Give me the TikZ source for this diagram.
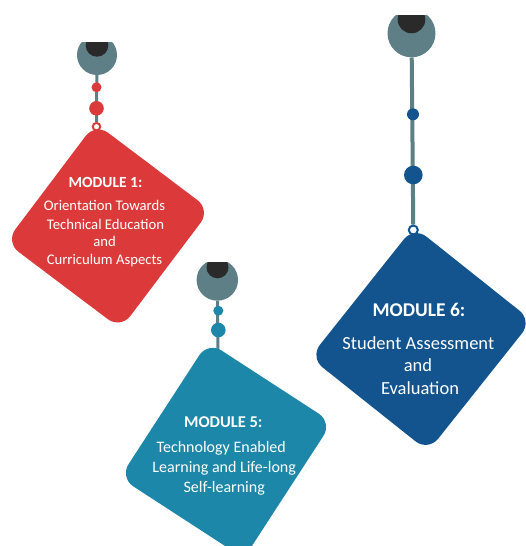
\documentclass[tikz,border=0pt]{standalone}
\usepackage{fontspec}
\setmainfont{Carlito}
\pgfdeclarelayer{bg}
\pgfsetlayers{bg,main}
\definecolor{headgray}{HTML}{5E7F85}
\definecolor{capdark}{HTML}{2A2A2A}
\definecolor{mred}{HTML}{DC3A3A}
\definecolor{mblue}{HTML}{13548F}
\definecolor{mteal}{HTML}{1C87A9}
\tikzset{
  card/.style={rectangle, rounded corners=16pt, inner sep=0pt, draw=none},
  head/.style={circle, fill=headgray, inner sep=0pt},
  capshape/.style={circle, fill=capdark, inner sep=0pt},
  bead/.style={circle, inner sep=0pt},
  hookring/.style={circle, draw, line width=2pt, inner sep=0pt, fill=none},
  stem/.style={draw=headgray, line width=3pt},
  ttl/.style={text=white, anchor=base, inner sep=0pt},
  bdy/.style={text=white, anchor=base, inner sep=0pt},
}
\begin{document}
\begin{tikzpicture}[x=1pt,y=-1pt]
\useasboundingbox (0,0) rectangle (525,546);

% ---------- Module 1 (red)
\node[card, fill=mred, minimum width=144pt, minimum height=149pt, rotate=-37] (m1) at (108,226) {};
\begin{scope}
  \clip (60,42) rectangle (135,80);
  \node[head, minimum size=40pt] (h1) at (97,55) {};
  \node[capshape, minimum size=22.6pt] (k1) at (97,45.4) {};
\end{scope}
\node[bead, fill=mred, minimum size=10pt] (s1) at (96.5,87.3) {};
\node[bead, fill=mred, minimum size=14.6pt] (b1) at (96.5,108.3) {};
\node[hookring, draw=mred, minimum size=7.5pt] (r1) at (96.5,126.7) {};
\begin{pgfonlayer}{bg}
  \draw[stem] (h1) -- (r1);
\end{pgfonlayer}
\node[ttl, font=\fontsize{15.5}{18}\selectfont\bfseries] (m1t) at (105.5,187.3) {MODULE 1:};
\node[bdy, font=\fontsize{14.7}{18}\selectfont] (m1a) at (104.5,210.7) {Orientation Towards};
\node[bdy, font=\fontsize{14.7}{18}\selectfont] (m1b) at (105.5,229) {Technical Education};
\node[bdy, font=\fontsize{14.7}{18}\selectfont] (m1c) at (104.5,246.7) {and};
\node[bdy, font=\fontsize{14.7}{18}\selectfont] (m1d) at (104.5,264.3) {Curriculum Aspects};

% ---------- Module 6 (blue)
\node[card, fill=mblue, minimum width=151pt, minimum height=167pt, rotate=-38.5] (m6) at (421,339) {};
\begin{scope}
  \clip (380,15) rectangle (445,62);
  \node[head, minimum size=48pt] (h6) at (411.5,33.3) {};
  \node[capshape, minimum size=27.6pt] (k6) at (411.5,19.5) {};
\end{scope}
\node[bead, fill=mblue, minimum size=12pt] (s6) at (413,114.3) {};
\node[bead, fill=mblue, minimum size=18.6pt] (b6) at (413.3,175) {};
\node[hookring, draw=mblue, minimum size=9pt] (r6) at (413.3,230) {};
\begin{pgfonlayer}{bg}
  \draw[stem, line width=4pt] (h6) -- (r6);
\end{pgfonlayer}
\node[ttl, font=\fontsize{19.5}{22}\selectfont\bfseries] (m6t) at (419,316.7) {MODULE 6:};
\node[bdy, font=\fontsize{18.5}{22}\selectfont] (m6a) at (418.3,349.3) {Student Assessment};
\node[bdy, font=\fontsize{18.5}{22}\selectfont] (m6b) at (418,371.5) {and};
\node[bdy, font=\fontsize{18.5}{22}\selectfont] (m6c) at (420,394) {Evaluation};

% ---------- Module 5 (teal)
\node[card, fill=mteal, minimum width=148pt, minimum height=162pt, rotate=-33] (m5) at (226,450) {};
\begin{scope}
  \clip (190,262.3) rectangle (245,305);
  \node[head, minimum size=41.4pt] (h5) at (217.3,280) {};
  \node[capshape, minimum size=22pt] (k5) at (217.5,267.3) {};
\end{scope}
\node[bead, fill=mteal, minimum size=10pt] (s5) at (218.3,310.7) {};
\node[bead, fill=mteal, minimum size=14.6pt] (b5) at (218.3,330) {};
\coordinate (t5) at (218,356);
\begin{pgfonlayer}{bg}
  \draw[stem] (h5) -- (t5);
\end{pgfonlayer}
\node[ttl, font=\fontsize{16.5}{20}\selectfont\bfseries] (m5t) at (223.3,427.3) {MODULE 5:};
\node[bdy, font=\fontsize{16}{20}\selectfont] (m5a) at (221.3,452.7) {Technology Enabled};
\node[bdy, font=\fontsize{16}{20}\selectfont] (m5b) at (224.2,472.7) {Learning and Life-long};
\node[bdy, font=\fontsize{16}{20}\selectfont] (m5c) at (224.2,492) {Self-learning};
\end{tikzpicture}
\end{document}
